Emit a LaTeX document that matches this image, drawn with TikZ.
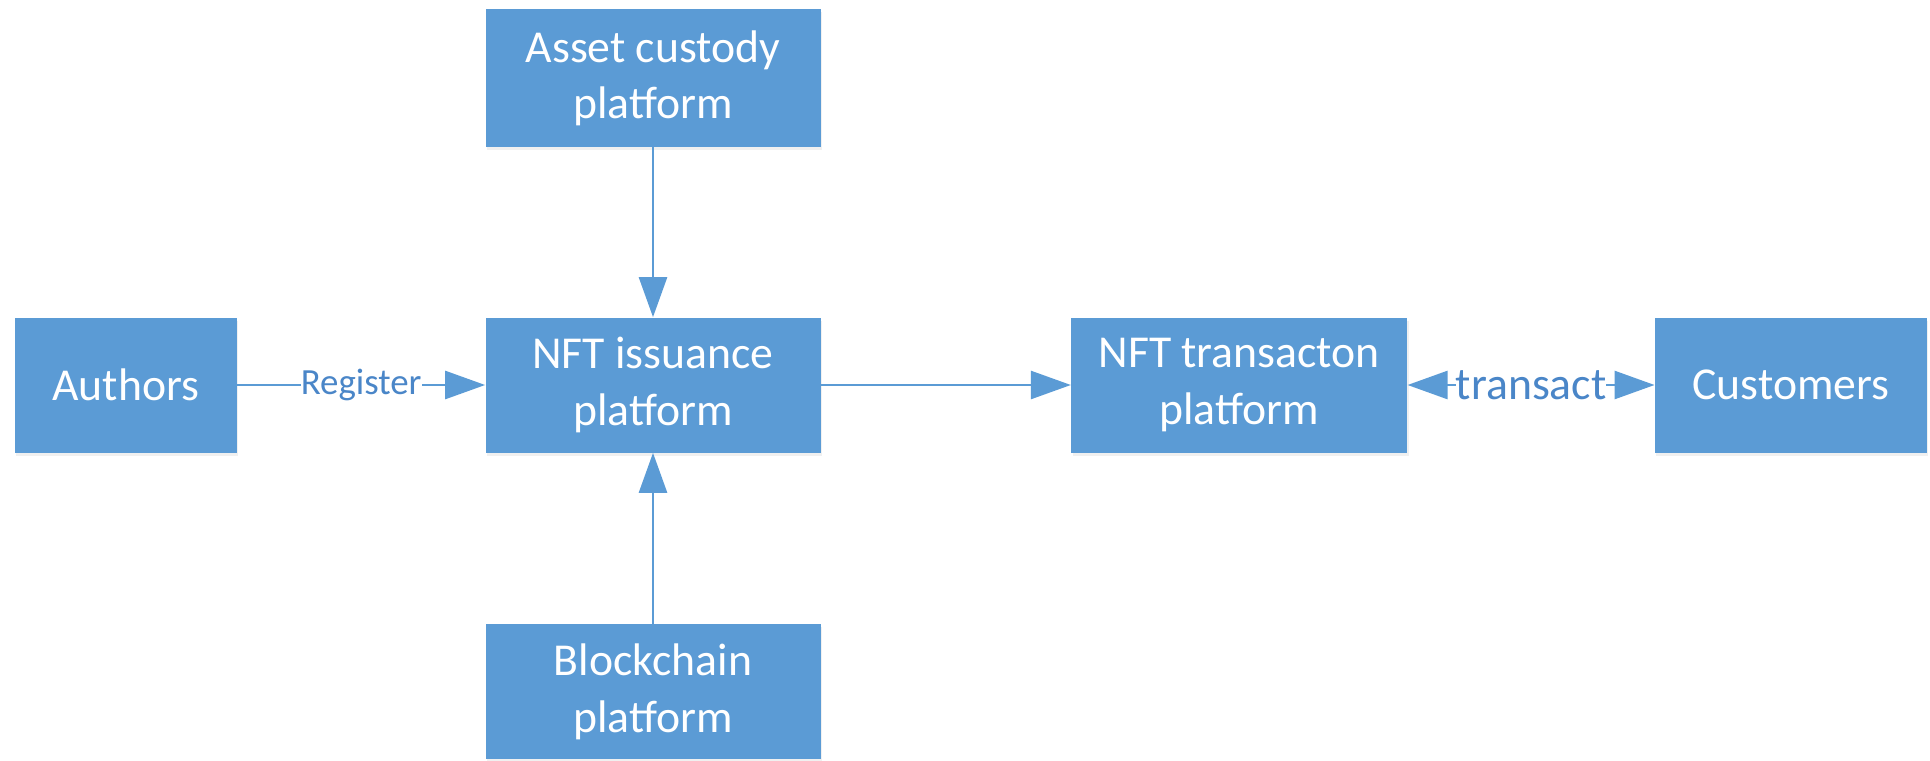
\documentclass[tikz,border=0pt]{standalone}
\usepackage{fontspec}
\setmainfont{Carlito}
\usetikzlibrary{arrows.meta,positioning,shadows}
\definecolor{boxblue}{HTML}{5B9BD5}
\definecolor{tagblue}{HTML}{4A86C8}

\begin{document}
\begin{tikzpicture}[
  platform/.style={fill=boxblue, text=white, align=center, inner sep=0pt,
        minimum width=6.7cm, minimum height=2.7cm,
        font=\fontsize{26}{32}\selectfont,
        drop shadow={opacity=0.12, shadow xshift=0.03cm, shadow yshift=-0.06cm}},
  link/.style={draw=boxblue, line width=1.5pt,
        -{Triangle[length=0.8cm, width=0.56cm]}},
  tag/.style={fill=white, text=tagblue, inner sep=0pt}
]
  \useasboundingbox (0,0) rectangle (38.6,15.2);

  % centre row
  \node[platform] (issue) at (13.06,7.5) {NFT issuance\\platform};
  \node[platform, minimum width=4.44cm, left=4.96cm of issue] (authors) {Authors};
  \node[platform, minimum width=6.72cm, right=5cm of issue] (trade) {NFT transacton\\platform};
  \node[platform, minimum width=5.44cm, right=4.94cm of trade] (customers) {Customers};

  % above and below
  \node[platform, minimum height=2.75cm, above=3.4cm of issue] (custody) {Asset custody\\platform};
  \node[platform, below=3.42cm of issue] (chain) {Blockchain\\platform};

  % connectors
  \draw[link] (authors) -- node[tag, font=\fontsize{21}{24}\selectfont] {Register} (issue);
  \draw[link] (custody) -- (issue);
  \draw[link] (chain) -- (issue);
  \draw[link] (issue) -- (trade);
  \draw[link, {Triangle[length=0.8cm, width=0.56cm]}-{Triangle[length=0.8cm, width=0.56cm]}]
    (trade) -- node[tag, font=\fontsize{26}{30}\selectfont] {transact} (customers);
\end{tikzpicture}
\end{document}
